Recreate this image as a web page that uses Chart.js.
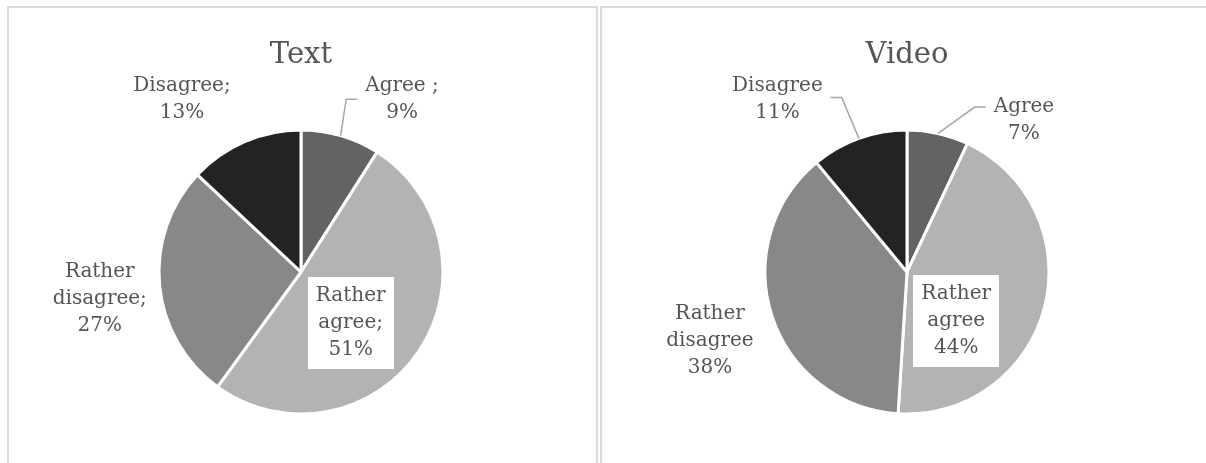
<!DOCTYPE html>
<html>
<head>
<meta charset="utf-8">
<script src="https://cdn.jsdelivr.net/npm/chart.js@4.4.1/dist/chart.umd.min.js"></script>
<style>
  html, body { margin: 0; padding: 0; background: #ffffff; overflow: hidden; }
  #page { position: relative; width: 1206px; height: 463px; }
  .panel { position: absolute; top: 6px; height: 480px; border: 2px solid #dadada; box-sizing: border-box; }
  #panelText { left: 7px; width: 591px; }
  #panelVideo { left: 600px; width: 640px; }
  canvas { position: absolute; top: 0; }
  #textChart { left: 0; }
  #videoChart { left: 603px; }
</style>
</head>
<body>
<div id="page">
  <div class="panel" id="panelText"></div>
  <div class="panel" id="panelVideo"></div>
  <canvas id="textChart" width="600" height="463"></canvas>
  <canvas id="videoChart" width="603" height="463"></canvas>
</div>
<script>
// categories in drawing order (clockwise from 12 o'clock)
const categories = ["Agree", "Rather agree", "Rather disagree", "Disagree"];
const textValues = [9, 51, 27, 13];
const videoValues = [7, 44, 38, 11];
// label text as printed on each chart (percent added from the values)
const textLabelLines = [["Agree ;"], ["Rather", "agree;"], ["Rather", "disagree;"], ["Disagree;"]];
const videoLabelLines = [["Agree"], ["Rather", "agree"], ["Rather", "disagree"], ["Disagree"]];

const sliceColors = ["#636363", "#b3b3b3", "#888888", "#232323"];
const textColor = "#555555";
const labelFont = "20px 'DejaVu Serif'";
const lineHeight = 27;

// draws title, data labels and leader lines from the arc geometry
const pieLabels = {
  id: "pieLabels",
  afterDraw(chart, args, opts) {
    const ctx = chart.ctx;
    const meta = chart.getDatasetMeta(0);
    const values = chart.data.datasets[0].data;
    const total = values.reduce((a, b) => a + b, 0);
    const cx = meta.data[0].x, cy = meta.data[0].y, r = meta.data[0].outerRadius;

    ctx.save();
    ctx.fillStyle = textColor;
    ctx.textAlign = "center";
    ctx.textBaseline = "alphabetic";
    ctx.font = "29px 'DejaVu Serif'";
    ctx.fillText(opts.title, cx, opts.titleBaseline);

    ctx.font = labelFont;
    ctx.textBaseline = "middle";
    meta.data.forEach((arc, i) => {
      const pct = Math.round(values[i] / total * 100) + "%";
      const lines = opts.lines[i].concat([pct]);
      const place = opts.place[i];
      const th = place[0] * Math.PI / 180;
      const lx = cx + place[1] * r * Math.sin(th);
      const ly = cy - place[1] * r * Math.cos(th);
      const w = Math.max(...lines.map(t => ctx.measureText(t).width));
      const h = lines.length * lineHeight;

      if (place[2] === "box") {
        ctx.fillStyle = "#ffffff";
        ctx.fillRect(Math.round(lx - 43), Math.round(ly - 46), 86, 92);
      }

      const lead = opts.leaders[i];
      if (lead !== undefined) {
        const mid = (arc.startAngle + arc.endAngle) / 2;
        const x0 = cx + r * Math.cos(mid), y0 = cy + r * Math.sin(mid);
        const side = lx > cx ? -1 : 1;
        const x2 = lx + side * (w / 2 + 8);
        const y2 = ly + lead;
        const x1 = x2 + side * 11;
        ctx.strokeStyle = "#a6a6a6";
        ctx.lineWidth = 1.5;
        ctx.beginPath();
        ctx.moveTo(x0, y0);
        ctx.lineTo(x1, y2);
        ctx.lineTo(x2, y2);
        ctx.stroke();
      }

      ctx.fillStyle = textColor;
      lines.forEach((t, k) => {
        ctx.fillText(t, lx, ly - h / 2 + lineHeight / 2 + k * lineHeight);
      });
    });
    ctx.restore();
  }
};

function makePie(canvasId, values, title, lines, place, leaders, cx) {
  const cy = 272, radius = 142;
  const canvas = document.getElementById(canvasId);
  return new Chart(canvas, {
    type: "pie",
    data: {
      labels: categories,
      datasets: [{
        data: values,
        backgroundColor: sliceColors,
        borderColor: "#ffffff",
        borderWidth: 3,
      }],
    },
    options: {
      responsive: false,
      animation: false,
      radius: radius,
      layout: {
        padding: {
          left: cx - 150,
          right: canvas.width - cx - 150,
          top: cy - 150,
          bottom: canvas.height - cy - 150,
        },
      },
      plugins: {
        legend: { display: false },
        tooltip: { enabled: false },
        pieLabels: { title, titleBaseline: 63, lines, place, leaders },
      },
    },
    plugins: [pieLabels],
  });
}

// label placement: [angle from 12 o'clock in degrees, distance in radii, style]
makePie("textChart", textValues, "Text", textLabelLines,
  [[30.3, 1.41], [135.6, 0.5, "box"], [262.3, 1.43], [-34.5, 1.48]],
  { 0: 0 }, 301);
makePie("videoChart", videoValues, "Video", videoLabelLines,
  [[37.6, 1.35], [135, 0.49, "box"], [250.7, 1.47], [-36.9, 1.52]],
  { 0: -13, 3: -2 }, 304);
</script>
</body>
</html>
